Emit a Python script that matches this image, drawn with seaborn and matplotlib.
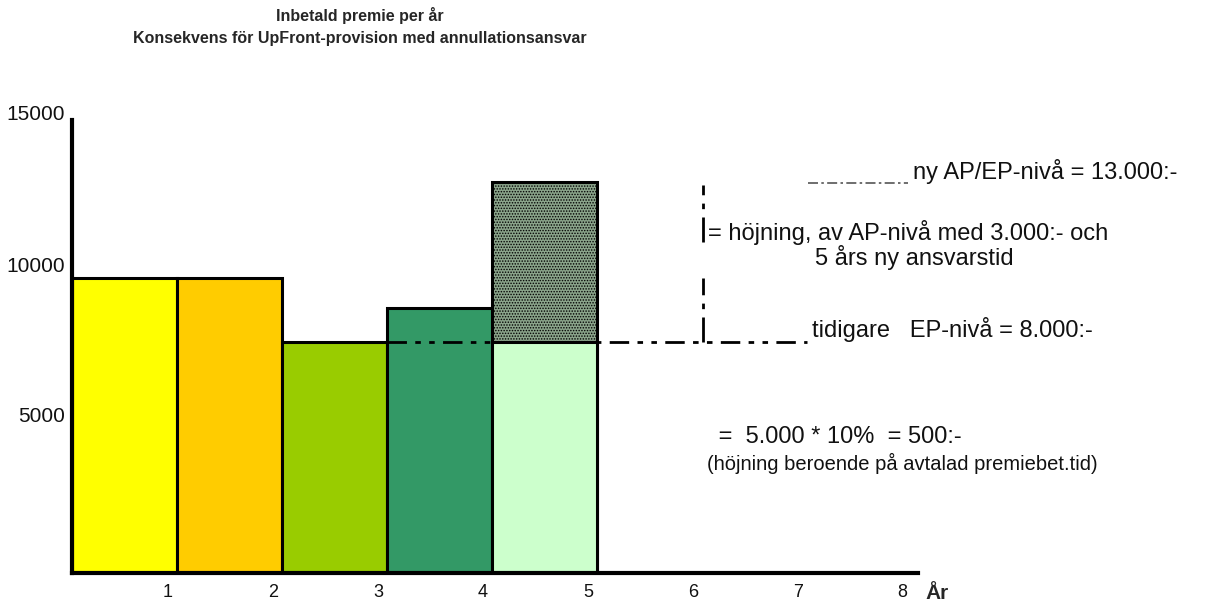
"""
premie per år - UpFront-provision med annullationsansvar
"""

import matplotlib
matplotlib.use("Agg")
import matplotlib.pyplot as plt
import matplotlib.transforms as mtransforms
import pandas as pd
import seaborn as sns

# data
years = [1, 2, 3, 4, 5]
premie = [9770, 9770, 7650, 8770, 7650]
bar_colors = ["#FFFF00", "#FFCC00", "#99CC00", "#339966", "#CCFFCC"]
ny_niva = 12950
ep_niva = 7650
xticks = [1, 2, 3, 4, 5, 6, 7, 8]
yticks = [5000, 10000, 15000]

sns.set_style("white")
plt.rcParams["font.family"] = ["Liberation Sans", "DejaVu Sans"]
plt.rcParams["hatch.linewidth"] = 0.7

df = pd.DataFrame({"mid": [y - 0.5 for y in years], "premie": premie, "ar": [str(y) for y in years]})

fig = plt.figure(figsize=(12.09, 6.02), dpi=100)
ax = fig.add_axes([72 / 1209, 29 / 602, 846 / 1209, 453 / 602])

# upper hatched part of year 5 (drawn full height, lower part painted over)
sns.barplot(x=[4.5], y=[ny_niva], native_scale=True, width=1, color="#8aa48a",
            edgecolor="black", linewidth=2.2, hatch="......", saturation=1, ax=ax)
sns.barplot(data=df, x="mid", y="premie", hue="ar", palette=bar_colors, native_scale=True,
            width=1, edgecolor="black", linewidth=2.2, saturation=1, legend=False, ax=ax)

# previous EP level
ax.plot([3, 7], [ep_niva, ep_niva], color="black", lw=2, dashes=(7, 3, 2, 3, 2, 3))
# rise marker
ax.plot([6.01, 6.01], [ep_niva, 9770], color="black", lw=2, dashes=(9, 3, 2, 3))
ax.plot([6.01, 6.01], [10960, 12850], color="black", lw=2, dashes=(9, 3, 2, 3))
# new level stub
ax.plot([7.01, 7.96], [12910, 12910], color="#555555", lw=1.2, dashes=(6, 2, 1.5, 2))

txt = dict(fontsize=17, color="#111111", va="center", ha="left")
ax.text(8.01, 13280, "ny AP/EP-nivå = 13.000:-", **txt)
ax.text(6.06, 11290, "= höjning, av AP-nivå med 3.000:- och", **txt)
ax.text(7.08, 10460, "5 års ny ansvarstid", **txt)
ax.text(7.05, 8050, "tidigare   EP-nivå = 8.000:-", **txt)
ax.text(6.10, 4500, " =  5.000 * 10%  = 500:-", **txt)
ax.text(6.05, 3640, "(höjning beroende på avtalad premiebet.tid)", fontsize=14.5,
        color="#111111", va="center", ha="left")

ax.set_xlim(0, 8.06)
ax.set_ylim(0, 15000)
ax.set_xticks(xticks)
ax.set_xticklabels([str(t) for t in xticks])
ax.set_yticks(yticks)
ax.set_yticklabels([str(t) for t in yticks])
ax.tick_params(axis="both", length=0, colors="#111111")
ax.tick_params(axis="x", pad=8, labelsize=13)
ax.tick_params(axis="y", pad=5, labelsize=15)
for lab in ax.get_xticklabels():
    lab.set_transform(lab.get_transform() + mtransforms.ScaledTranslation(-0.09, 0, fig.dpi_scale_trans))
for lab in ax.get_yticklabels():
    lab.set_transform(lab.get_transform() + mtransforms.ScaledTranslation(0, 0.07, fig.dpi_scale_trans))
ax.set_xlabel("")
ax.set_ylabel("")

sns.despine(ax=ax)
for side in ["left", "bottom"]:
    ax.spines[side].set_linewidth(3)
    ax.spines[side].set_color("black")

ax.text(1.009, -0.045, "År", transform=ax.transAxes, fontsize=15, fontweight="bold",
        va="center", ha="left")

fig.text(360 / 1209, 1 - 16 / 602, "Inbetald premie per år", fontsize=11.5, fontweight="bold",
         ha="center", va="center")
fig.text(360 / 1209, 1 - 38 / 602, "Konsekvens för UpFront-provision med annullationsansvar",
         fontsize=11.5, fontweight="bold", ha="center", va="center")

fig.savefig("out.png", dpi=100, facecolor="white")
